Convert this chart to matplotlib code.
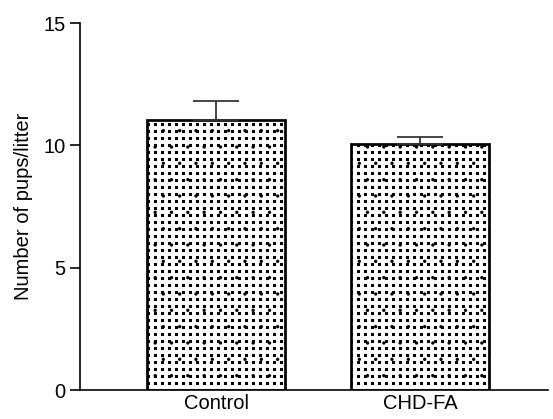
import matplotlib
matplotlib.use("Agg")
import numpy as np
import matplotlib.pyplot as plt
from matplotlib import hatch as mhatch
from matplotlib.path import Path

# litter size per group (mean and SEM)
groups = ["Control", "CHD-FA"]
means = [11.03, 10.06]
sems = [0.80, 0.30]

# Agg draws one hatch tile per dpi pixels; 98 dpi gives a clean 7 px dot grid
DPI = 98
FS = 14.5 * 100 / DPI


# square-dot grid fill, used in place of the default small-circle hatch
class SquareDots(mhatch.HatchPatternBase):
    rows = 14
    side = 3  # px

    def __init__(self, hatch, density):
        self.num_rows = self.rows if '.' in hatch else 0
        self.num_vertices = self.num_rows ** 2 * 5

    def set_vertices_and_codes(self, vertices, codes):
        pos = [j / self.num_rows for j in range(self.num_rows)]
        s = self.side / DPI
        sq = np.array([[0, 0], [s, 0], [s, s], [0, s], [0, 0]])
        sc = [Path.MOVETO, Path.LINETO, Path.LINETO, Path.LINETO, Path.CLOSEPOLY]
        k = 0
        for py in pos:
            for px in pos:
                vertices[k:k + 5] = sq + [px, py]
                codes[k:k + 5] = sc
                k += 5


mhatch._hatch_types = [t for t in mhatch._hatch_types
                       if t is not mhatch.SmallCircles] + [SquareDots]

plt.rcParams['font.family'] = ['Liberation Sans', 'DejaVu Sans']
plt.rcParams['hatch.linewidth'] = 0.05
plt.rcParams['hatch.color'] = '#1e1e1e'

fig = plt.figure(figsize=(553 / DPI, 419 / DPI), dpi=DPI)
ax = fig.add_axes([0.1447, 0.069, 0.8463, 0.876])

x = range(len(groups))
ax.bar(x, means, width=0.68, color='white', edgecolor='black',
       linewidth=2, hatch='.')
ax.errorbar(x, means, yerr=[[0, 0], sems], fmt='none', ecolor='#333333',
            elinewidth=1.3, capsize=17, capthick=1.3)

ax.set_xlim(-0.667, 1.627)
ax.set_ylim(0, 15)
ax.set_yticks([0, 5, 10, 15])
ax.set_xticks(list(x))
ax.set_xticklabels(groups)
ax.set_ylabel("Number of pups/litter", fontsize=FS, labelpad=8)

ax.spines['top'].set_visible(False)
ax.spines['right'].set_visible(False)
ax.spines['left'].set_linewidth(1.2)
ax.spines['bottom'].set_linewidth(1.2)
ax.tick_params(axis='y', direction='out', length=7, width=1.2, labelsize=FS)
ax.tick_params(axis='x', length=0, labelsize=FS, pad=3)

fig.savefig("out.png", dpi=DPI)
